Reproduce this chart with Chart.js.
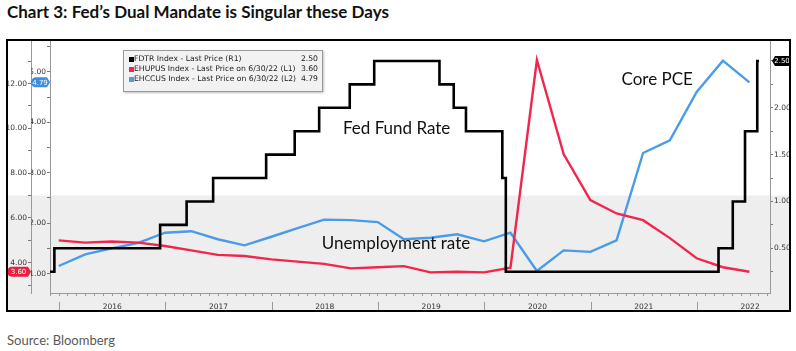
<!DOCTYPE html>
<html>
<head>
<meta charset="utf-8">
<script src="https://cdn.jsdelivr.net/npm/chart.js@4.4.1/dist/chart.umd.min.js"></script>
<style>
  body { margin: 0; width: 796px; height: 351px; position: relative; overflow: hidden; background: #fff; font-family: Lato, sans-serif; }
  #title { position: absolute; left: 7px; top: 2px; font-weight: bold; font-size: 17px; line-height: 20px; color: #111; white-space: nowrap; }
  #frame { position: absolute; left: 6px; top: 39px; width: 781px; height: 269px; border: 2px solid #000; }
  #legend { position: absolute; left: 123px; top: 50px; width: 198px; height: 37px; background: #f2f2f2; border: 1px solid #9a9a9a;
            box-shadow: 1px 1px 2px rgba(0,0,0,0.25); padding-top: 3px; box-sizing: content-box; font-family: "DejaVu Sans", sans-serif; font-size: 7.7px; color: #222; }
  #legend .row { position: relative; height: 10px; line-height: 10px; white-space: nowrap; }
  #legend .sw { position: absolute; left: 5px; top: 2.5px; width: 5px; height: 5px; }
  #legend .lbl { position: absolute; left: 10px; }
  #legend .val { position: absolute; right: 4px; }
  #source { position: absolute; left: 7px; top: 332px; font-size: 13px; color: #595959; }
</style>
</head>
<body>
<div id="title">Chart 3: Fed’s Dual Mandate is Singular these Days</div>
<div id="frame"><canvas id="chart" width="781" height="269"></canvas></div>
<div id="legend"></div>
<div id="source">Source: Bloomberg</div>
<script>
// quarterly series (plotted at quarter end)
const quarterEnds = ['2015-12-31', '2016-03-31', '2016-06-30', '2016-09-30', '2016-12-31', '2017-03-31', '2017-06-30',
  '2017-09-30', '2017-12-31', '2018-03-31', '2018-06-30', '2018-09-30', '2018-12-31', '2019-03-31', '2019-06-30',
  '2019-09-30', '2019-12-31', '2020-03-31', '2020-06-30', '2020-09-30', '2020-12-31', '2021-03-31', '2021-06-30',
  '2021-09-30', '2021-12-31', '2022-03-31', '2022-06-30'];
const unemployment = [5.0, 4.9, 4.95, 4.9, 4.75, 4.55, 4.35, 4.3, 4.15, 4.05, 3.95, 3.75, 3.8, 3.85, 3.57, 3.6,
  3.57, 3.78, 13.05, 8.85, 6.8, 6.2, 5.9, 5.1, 4.2, 3.8, 3.6];
const corePce = [1.15, 1.38, 1.5, 1.61, 1.81, 1.84, 1.68, 1.56, 1.73, 1.9, 2.07, 2.06, 2.02, 1.68, 1.71, 1.78,
  1.64, 1.81, 1.05, 1.46, 1.43, 1.66, 3.39, 3.64, 4.6, 5.22, 4.79];

// fed funds target upper bound, changes
const fedDates = ['2015-12-01', '2015-12-16', '2016-12-14', '2017-03-15', '2017-06-14', '2017-12-13', '2018-03-21',
  '2018-06-13', '2018-09-26', '2018-12-19', '2019-07-31', '2019-09-18', '2019-10-30', '2020-03-03', '2020-03-15',
  '2022-03-16', '2022-05-04', '2022-06-15', '2022-07-27', '2022-08-02'];
const fedRates = [0.25, 0.5, 0.75, 1.0, 1.25, 1.5, 1.75, 2.0, 2.25, 2.5, 2.25, 2.0, 1.75, 1.25, 0.25,
  0.5, 1.0, 1.75, 2.5, 2.5];

const yearLabels = ['2016', '2017', '2018', '2019', '2020', '2021', '2022'];

const seriesNames = ['FDTR Index - Last Price (R1)', 'EHUPUS Index - Last Price on 6/30/22 (L1)', 'EHCCUS Index - Last Price on 6/30/22 (L2)'];
const colors = { fed: '#000000', unemp: '#f0264d', pce: '#4a9be8' };

const toYear = s => {
  const d = new Date(s + 'T00:00:00Z');
  const y = d.getUTCFullYear();
  const a = Date.UTC(y, 0, 1), b = Date.UTC(y + 1, 0, 1);
  return y + (d - a) / (b - a);
};

// legend
const legendEl = document.getElementById('legend');
[[colors.fed, seriesNames[0], fedRates], [colors.unemp, seriesNames[1], unemployment], [colors.pce, seriesNames[2], corePce]]
  .forEach(([c, name, arr]) => {
    legendEl.insertAdjacentHTML('beforeend',
      `<div class="row"><span class="sw" style="background:${c}"></span><span class="lbl">${name}</span><span class="val">${arr[arr.length - 1].toFixed(2)}</span></div>`);
  });

const tickFont = { family: 'DejaVu Sans', size: 7.5 };
const noPad = s => { s.paddingTop = 0; s.paddingBottom = 0; s.paddingLeft = 0; s.paddingRight = 0; };

function badge(ctx, x1, x2, y, color, text, pointRight) {
  const h = 10;
  ctx.beginPath();
  if (pointRight) {
    ctx.moveTo(x1 + 4, y - h / 2);
    ctx.lineTo(x2 - 3, y - h / 2);
    ctx.lineTo(x2, y);
    ctx.lineTo(x2 - 3, y + h / 2);
    ctx.lineTo(x1 + 4, y + h / 2);
    ctx.arc(x1 + 4, y, h / 2, Math.PI / 2, Math.PI * 1.5);
  } else {
    ctx.moveTo(x2, y - h / 2);
    ctx.lineTo(x1 + 3, y - h / 2);
    ctx.lineTo(x1, y);
    ctx.lineTo(x1 + 3, y + h / 2);
    ctx.lineTo(x2, y + h / 2);
  }
  ctx.closePath();
  ctx.fillStyle = color;
  ctx.fill();
  ctx.fillStyle = '#fff';
  ctx.font = '7px "DejaVu Sans"';
  ctx.textAlign = 'center';
  ctx.textBaseline = 'middle';
  ctx.fillText(text, (x1 + x2) / 2 + (pointRight ? -1 : 1.5), y + 0.5);
}

const decor = {
  id: 'decor',
  beforeDraw(chart) {
    const ctx = chart.ctx;
    const y7 = chart.scales.yL1.getPixelForValue(7);
    ctx.save();
    ctx.fillStyle = '#eeeeee';
    ctx.fillRect(0, y7, chart.width, chart.height - y7);
    ctx.restore();
  },
  afterDatasetsDraw(chart) {
    const { ctx, scales } = chart;
    ctx.save();
    ctx.font = '17px Lato';
    ctx.fillStyle = '#111';
    ctx.textBaseline = 'middle';
    ctx.textAlign = 'left';
    ctx.fillText('Fed Fund Rate', scales.x.getPixelForValue(2018.67), scales.yR1.getPixelForValue(1.78));
    ctx.fillText('Unemployment rate', scales.x.getPixelForValue(2018.47), scales.yL1.getPixelForValue(4.88));
    ctx.fillText('Core PCE', scales.x.getPixelForValue(2021.29), scales.yL2.getPixelForValue(4.84));
    ctx.restore();
  },
  afterDraw(chart) {
    const { ctx, scales } = chart;
    ctx.save();
    // year separators
    ctx.strokeStyle = '#999';
    ctx.lineWidth = 1;
    yearLabels.forEach(y => {
      const x = Math.round(scales.x.getPixelForValue(+y)) + 0.5;
      ctx.beginPath();
      ctx.moveTo(x, scales.x.bottom - 8);
      ctx.lineTo(x, scales.x.bottom);
      ctx.stroke();
    });
    // last value badges
    const l1 = scales.yL1, l2 = scales.yL2, r1 = scales.yR1;
    const lastU = unemployment[unemployment.length - 1];
    const lastP = corePce[corePce.length - 1];
    const lastF = fedRates[fedRates.length - 1];
    badge(ctx, l1.left, l1.right, l1.getPixelForValue(lastU), '#e8203f', lastU.toFixed(2), true);
    badge(ctx, l2.left + 1, l2.right, l2.getPixelForValue(lastP), '#3e8ee0', lastP.toFixed(2), true);
    badge(ctx, r1.left + 2, r1.right, r1.getPixelForValue(lastF), '#000', lastF.toFixed(2), false);
    ctx.restore();
  }
};

new Chart(document.getElementById('chart'), {
  type: 'line',
  data: {
    datasets: [
      {
        label: seriesNames[0],
        data: fedDates.map((d, i) => ({ x: toYear(d), y: fedRates[i] })),
        yAxisID: 'yR1',
        borderColor: colors.fed,
        borderWidth: 2.6,
        stepped: true,
        pointRadius: 0
      },
      {
        label: seriesNames[1],
        data: quarterEnds.map((d, i) => ({ x: toYear(d), y: unemployment[i] })),
        yAxisID: 'yL1',
        borderColor: colors.unemp,
        borderWidth: 2.4,
        tension: 0,
        pointRadius: 0
      },
      {
        label: seriesNames[2],
        data: quarterEnds.map((d, i) => ({ x: toYear(d), y: corePce[i] })),
        yAxisID: 'yL2',
        borderColor: colors.pce,
        borderWidth: 2.4,
        tension: 0,
        pointRadius: 0
      }
    ]
  },
  options: {
    responsive: false,
    animation: false,
    events: [],
    layout: { padding: 0 },
    plugins: { legend: { display: false }, tooltip: { enabled: false } },
    scales: {
      x: {
        type: 'linear',
        min: 2015.915,
        max: 2022.687,
        afterBuildTicks: s => {
          const t = [];
          for (let y = 2015; y <= 2022; y++) {
            for (let m = 0; m < 12; m++) {
              const v = y + m / 12;
              if (v >= s.min && v <= s.max) t.push({ value: v });
            }
          }
          s.ticks = t;
        },
        ticks: {
          autoSkip: false,
          maxRotation: 0,
          padding: 7,
          color: '#333',
          font: tickFont,
          callback: v => {
            const y = Math.floor(v + 1e-6);
            const m = Math.round((v - y) * 12);
            return m === 6 && yearLabels.includes(String(y)) ? String(y) : '';
          }
        },
        grid: { drawOnChartArea: false, tickLength: 3, color: '#999' },
        border: { color: '#999' },
        afterFit: s => { s.height = 17; noPad(s); }
      },
      yL1: {
        type: 'linear',
        position: 'left',
        weight: 2,
        min: 2.65,
        max: 13.9,
        ticks: {
          stepSize: 1,
          includeBounds: false,
          autoSkip: false,
          padding: 1,
          color: '#333',
          font: tickFont,
          callback: v => (Math.abs(v % 2) < 1e-6 ? v.toFixed(2) : '')
        },
        grid: { drawOnChartArea: false, tickLength: 3, color: '#777' },
        border: { color: '#999' },
        afterFit: s => { s.width = 23; noPad(s); }
      },
      yL2: {
        type: 'linear',
        position: 'left',
        weight: 1,
        min: 0.615,
        max: 5.61,
        ticks: {
          stepSize: 0.5,
          includeBounds: false,
          autoSkip: false,
          padding: 1,
          color: '#333',
          font: tickFont,
          callback: v => (Math.abs(v % 1) < 1e-6 ? v.toFixed(2) : '')
        },
        grid: { drawOnChartArea: false, tickLength: 3, color: '#777' },
        border: { color: '#999' },
        afterFit: s => { s.width = 19; noPad(s); }
      },
      yR1: {
        type: 'linear',
        position: 'right',
        min: 0.023,
        max: 2.713,
        ticks: {
          stepSize: 0.25,
          includeBounds: false,
          autoSkip: false,
          padding: 1,
          color: '#333',
          font: tickFont,
          callback: v => (Math.abs(v % 0.5) < 1e-6 ? v.toFixed(2) : '')
        },
        grid: { drawOnChartArea: false, tickLength: 3, color: '#777' },
        border: { color: '#999' },
        afterFit: s => { s.width = 19; noPad(s); }
      }
    }
  },
  plugins: [decor]
});
</script>
</body>
</html>
